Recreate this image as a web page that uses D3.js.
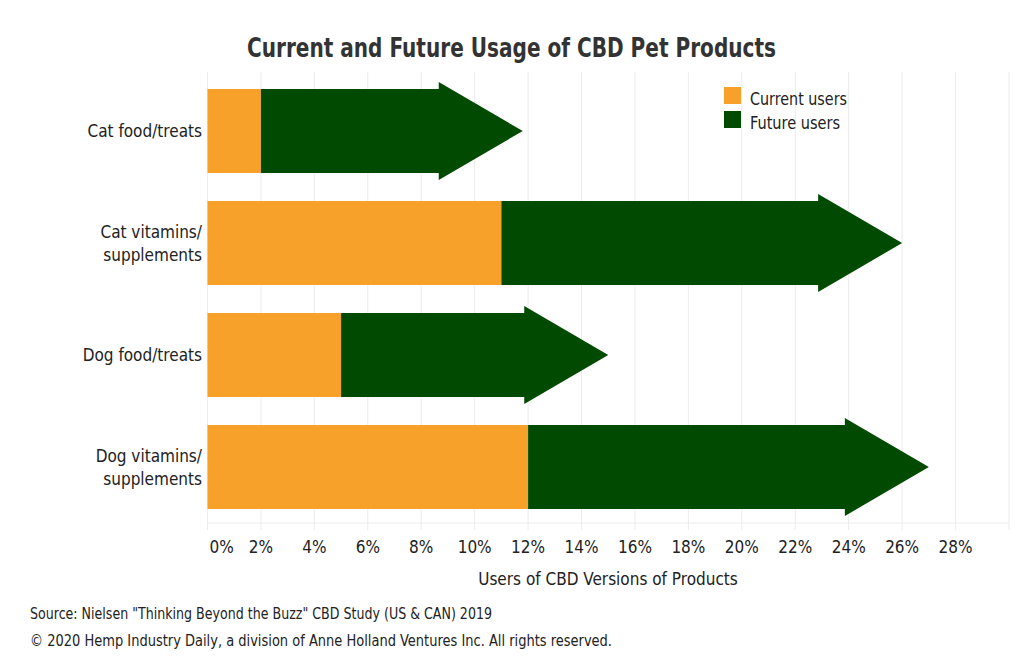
<!DOCTYPE html>
<html><head><meta charset="utf-8">
<script src="https://cdn.jsdelivr.net/npm/d3@7"></script>
<style>
body{margin:0;background:#fff;}
text{font-family:"Liberation Sans Narrow","DejaVu Sans Condensed",sans-serif;fill:#222;}
</style></head>
<body><svg id="c" width="1024" height="663"></svg>
<script>
const categories = ["Cat food/treats", "Cat vitamins/\nsupplements", "Dog food/treats", "Dog vitamins/\nsupplements"];
const currentUsers = [2, 11, 5, 12];
const futureUsers = [11.8, 26, 15, 27];
const tickValues = [0, 2, 4, 6, 8, 10, 12, 14, 16, 18, 20, 22, 24, 26, 28, 30];
const tickLabels = ["0%", "2%", "4%", "6%", "8%", "10%", "12%", "14%", "16%", "18%", "20%", "22%", "24%", "26%", "28%", ""];
const seriesNames = ["Current users", "Future users"];
const colors = ["#F8A12A", "#014A01"];

const svg = d3.select("#c");
const x = d3.scaleLinear().domain([0, 30]).range([207.5, 1009]);
const y = d3.scaleBand().domain(categories).range([75, 523]).paddingInner(0.25).paddingOuter(0.125);

// grid
svg.append("g").selectAll("line").data(tickValues).join("line")
  .attr("x1", d => x(d)).attr("x2", d => x(d))
  .attr("y1", 72).attr("y2", 530)
  .attr("stroke", "#ececec").attr("stroke-width", 1);
svg.append("line").attr("x1", x(0)).attr("x2", x(30)).attr("y1", 523).attr("y2", 523)
  .attr("stroke", "#ececec");

// tick labels
svg.append("g").selectAll("text").data(tickValues).join("text")
  .attr("x", d => d === 0 ? x(d) + 2 : x(d))
  .attr("y", 553)
  .attr("text-anchor", d => d === 0 ? "start" : "middle")
  .attr("font-size", 17)
  .text((d, i) => tickLabels[i]);

const bw = y.bandwidth();
const headLen = bw;
const over = 7;

// current bars
svg.append("g").selectAll("rect").data(categories).join("rect")
  .attr("x", x(0)).attr("y", d => y(d))
  .attr("width", (d, i) => x(currentUsers[i]) - x(0))
  .attr("height", bw).attr("fill", colors[0]);

// future arrows
svg.append("g").selectAll("path").data(categories).join("path")
  .attr("d", (d, i) => {
    const x0 = x(currentUsers[i]), tip = x(futureUsers[i]), base = tip - headLen;
    const t = y(d), b = y(d) + bw, m = y(d) + bw / 2;
    return `M${x0},${t}L${base},${t}L${base},${t - over}L${tip},${m}L${base},${b + over}L${base},${b}L${x0},${b}Z`;
  })
  .attr("fill", colors[1]);

// category labels
categories.forEach(c => {
  const lines = c.split("\n");
  const cy = y(c) + bw / 2;
  const t = svg.append("text").attr("text-anchor", "end").attr("font-size", 17);
  lines.forEach((l, j) => {
    t.append("tspan").attr("x", 202)
      .attr("y", cy + 6 + (j - (lines.length - 1) / 2) * 23)
      .text(l);
  });
});

// legend
seriesNames.forEach((s, i) => {
  svg.append("rect").attr("x", 724).attr("y", 87 + i * 24).attr("width", 17).attr("height", 17).attr("fill", colors[i]);
  svg.append("text").attr("x", 750).attr("y", 105 + i * 24).attr("font-size", 17)
    .attr("textLength", i === 0 ? 97 : 90).attr("lengthAdjust", "spacingAndGlyphs").text(s);
});

// title
svg.append("text").attr("x", 247).attr("y", 57)
  .attr("font-size", 26).attr("font-weight", "bold").style("fill", "#333")
  .attr("textLength", 529).attr("lengthAdjust", "spacingAndGlyphs")
  .text("Current and Future Usage of CBD Pet Products");

// axis title
svg.append("text").attr("x", 608).attr("y", 585).attr("text-anchor", "middle")
  .attr("font-size", 17).text("Users of CBD Versions of Products");

// source
svg.append("text").attr("x", 30).attr("y", 619).attr("font-size", 15)
  .attr("textLength", 462).attr("lengthAdjust", "spacingAndGlyphs")
  .text('Source: Nielsen "Thinking Beyond the Buzz" CBD Study (US & CAN) 2019');
svg.append("text").attr("x", 30).attr("y", 646).attr("font-size", 15)
  .attr("textLength", 582).attr("lengthAdjust", "spacingAndGlyphs")
  .text("© 2020 Hemp Industry Daily, a division of Anne Holland Ventures Inc. All rights reserved.");
</script></body></html>
